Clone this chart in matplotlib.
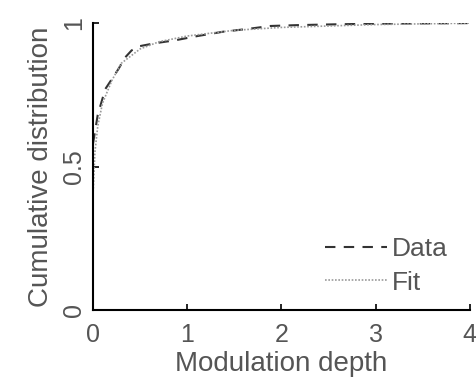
import numpy as np
import matplotlib.pyplot as plt

plt.rcParams['font.family'] = ['Liberation Sans', 'DejaVu Sans']

# empirical cumulative distribution of modulation depth
depth_data = [0.0, 0.02, 0.05, 0.13, 0.27, 0.34, 0.41, 0.5, 0.66, 0.87, 1.11, 1.38, 1.65, 1.88, 2.17, 2.6, 3.0, 3.5, 4.0]
cdf_data = [0.58, 0.62, 0.68, 0.77, 0.84, 0.88, 0.905, 0.92, 0.93, 0.94, 0.955, 0.97, 0.98, 0.99, 0.993, 0.996, 0.998, 0.999, 1.0]

# fitted distribution
depth_fit = [0.0, 0.02, 0.05, 0.1, 0.2, 0.3, 0.5, 0.7, 1.0, 1.5, 2.0, 3.0, 4.0]
cdf_fit = [0.40, 0.55, 0.64, 0.72, 0.80, 0.86, 0.91, 0.935, 0.955, 0.975, 0.985, 0.995, 1.0]

text_col = '#555555'

fig = plt.figure(figsize=(4.77, 3.79), dpi=100)
ax = fig.add_axes([0.195, 0.182, 0.79, 0.757])

ax.plot(depth_data, cdf_data, color='#333333', lw=1.5, ls=(0, (5, 4)), label='Data')
ax.plot(depth_fit, cdf_fit, color='#999999', lw=1.2, ls=(0, (1, 1)), label='Fit')

ax.set_xlim(0, 4)
ax.set_ylim(0, 1)
ax.set_xticks([0, 1, 2, 3, 4])
ax.set_yticks([0, 0.5, 1])
ax.set_yticklabels(['0', '0.5', '1'], rotation=90, va='center')
ax.spines['top'].set_visible(False)
ax.spines['right'].set_visible(False)
for s in ('left', 'bottom'):
    ax.spines[s].set_linewidth(1.5)
ax.tick_params(direction='in', length=4, width=1.2, labelsize=18, labelcolor=text_col)
ax.tick_params(axis='x', pad=9)
ax.tick_params(axis='y', pad=5)

ax.set_xlabel('Modulation depth', fontsize=20, color=text_col, labelpad=3)
ax.set_ylabel('Cumulative distribution', fontsize=20, color=text_col, labelpad=6)

leg = ax.legend(loc='upper left', frameon=False, fontsize=19, handlelength=2.35,
                handletextpad=0.2, labelspacing=0.37, borderpad=0, borderaxespad=0,
                bbox_to_anchor=(0.615, 0.255))
for t in leg.get_texts():
    t.set_color(text_col)

fig.savefig('out.png', dpi=100)
